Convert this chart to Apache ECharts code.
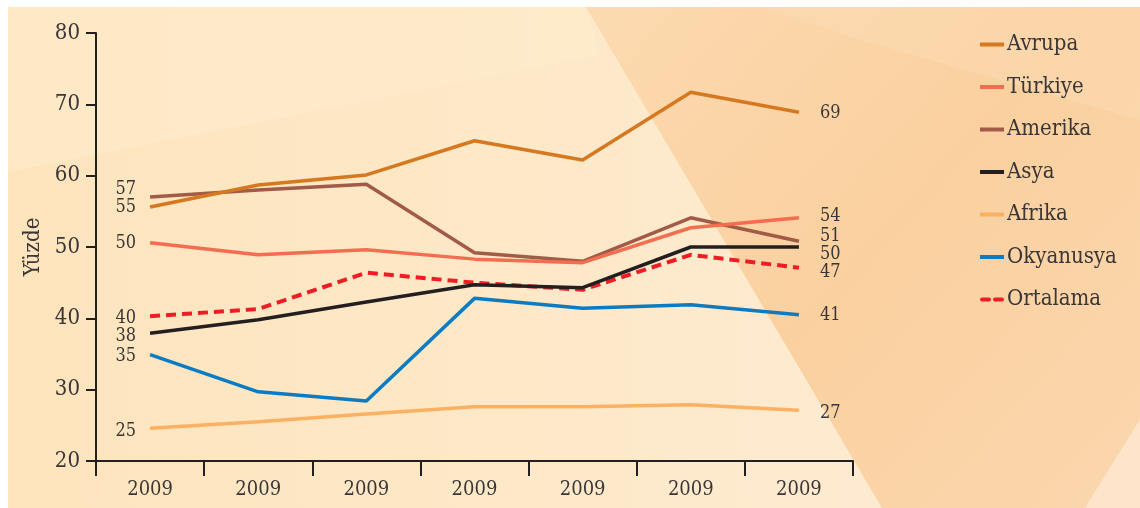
<!DOCTYPE html>
<html>
<head>
<meta charset="utf-8">
<script src="https://cdn.jsdelivr.net/npm/echarts@6/dist/echarts.min.js"></script>
<style>
html,body{margin:0;padding:0;background:#ffffff;}
#chart{width:1140px;height:508px;}
</style>
</head>
<body>
<div id="chart"></div>
<script>
// ---- data ----
const categories = ['2009', '2009', '2009', '2009', '2009', '2009', '2009'];
const seriesNames = ['Avrupa', 'Türkiye', 'Amerika', 'Asya', 'Afrika', 'Okyanusya', 'Ortalama'];
const avrupa    = [55.6, 58.7, 60.1, 64.9, 62.2, 71.7, 68.9];
const turkiye   = [50.6, 48.9, 49.6, 48.3, 47.8, 52.7, 54.1];
const amerika   = [57.0, 58.0, 58.8, 49.2, 48.0, 54.1, 50.8];
const asya      = [37.9, 39.8, 42.3, 44.7, 44.3, 50.0, 50.0];
const afrika    = [24.6, 25.5, 26.6, 27.6, 27.6, 27.9, 27.1];
const okyanusya = [34.9, 29.7, 28.4, 42.8, 41.4, 41.9, 40.5];
const ortalama  = [40.3, 41.3, 46.4, 45.0, 44.0, 48.9, 47.1];
const startLabels = ['55', '50', '57', '38', '25', '35', '40'];
const endLabels   = ['69', '54', '51', '50', '27', '41', '47'];
const yTicks = [20, 30, 40, 50, 60, 70, 80];
const yTitle = 'Yüzde';

// ---- style ----
const values = [avrupa, turkiye, amerika, asya, afrika, okyanusya, ortalama];
const colors = ['#d5781f', '#f36d50', '#a15b46', '#231f20', '#fbb062', '#0b7bc3', '#ee1c25'];
const startNudge = [0, 1, -8, 3, 3, 2, 2];
const endNudge = [1, -1, -5, 7, 3, 1, 5];
const FONT = "'DejaVu Serif Condensed', 'DejaVu Serif', serif";
const TXT = '#3b3636';
const SOLID_ICON = 'path://M0,0H24V4H0Z';
const DASH_ICON = 'path://M2,0H9A2,2 0 0 1 9,4H2A2,2 0 0 1 2,0Z M15,0H22A2,2 0 0 1 22,4H15A2,2 0 0 1 15,0Z';

const labelBase = { show: true, fontFamily: FONT, fontSize: 18, color: TXT };

const series = values.map((vals, si) => ({
  name: seriesNames[si],
  type: 'line',
  symbol: 'circle',
  symbolSize: 0.01,
  showSymbol: true,
  z: 10 - si,
  lineStyle: {
    color: colors[si],
    width: si === 6 ? 4 : 3.5,
    type: si === 6 ? [10, 6] : 'solid'
  },
  itemStyle: { color: colors[si] },
  label: { show: false },
  data: vals.map((v, i) => {
    const item = { value: v };
    if (i === 0) {
      item.label = Object.assign({}, labelBase, { position: 'left', distance: 14,
        offset: [0, startNudge[si]], formatter: () => startLabels[si] });
    } else if (i === vals.length - 1) {
      item.label = Object.assign({}, labelBase, { position: 'right', distance: 21,
        offset: [0, endNudge[si]], formatter: () => endLabels[si] });
    }
    return item;
  })
}));

const chart = echarts.init(document.getElementById('chart'), null, { renderer: 'canvas' });
chart.setOption({
  animation: false,
  backgroundColor: '#ffffff',
  graphic: [
    { type: 'rect', z: -100, silent: true, shape: { x: 8, y: 7, width: 1132, height: 501 },
      style: { fill: { type: 'linear', x: 0, y: 0, x2: 1, y2: 0, colorStops: [
        { offset: 0, color: '#fde4bd' }, { offset: 0.5, color: '#fde9c9' }, { offset: 0.75, color: '#feead0' }, { offset: 1, color: '#feead0' }] } } },
    { type: 'polygon', z: -99, silent: true, shape: { points: [[8, 7], [586, 7], [600, 55], [8, 172]] },
      style: { fill: '#fdebcb', opacity: 0.7 } },
    { type: 'polygon', z: -97, silent: true, shape: { points: [[586, 7], [1140, 7], [1140, 420], [1085, 508], [882, 508]] },
      style: { fill: { type: 'linear', x: 0, y: 0, x2: 1, y2: 1, colorStops: [
        { offset: 0, color: '#fcdab0' }, { offset: 0.5, color: '#fad09f' }, { offset: 1, color: '#fbd7ae' }] } } },
    { type: 'polygon', z: -96, silent: true, shape: { points: [[760, 7], [1140, 7], [1140, 120], [860, 40]] },
      style: { fill: '#fcdbb4', opacity: 0.5 } },
    { type: 'polygon', z: -96, silent: true, shape: { points: [[1140, 420], [1140, 508], [1085, 508]] },
      style: { fill: '#fde4ca' } }
  ],
  grid: { left: 96, right: 287, top: 33, bottom: 47, containLabel: false },
  legend: {
    orient: 'vertical',
    left: 975,
    top: 27,
    itemWidth: 24,
    itemHeight: 4,
    itemGap: 17.5,
    data: seriesNames.map((n, i) => ({ name: n, icon: i === 6 ? DASH_ICON : SOLID_ICON })),
    textStyle: { fontFamily: FONT, fontSize: 22, color: TXT, lineHeight: 25, padding: [0, 0, 0, -2] }
  },
  xAxis: {
    type: 'category',
    data: categories,
    boundaryGap: true,
    axisLine: { lineStyle: { color: '#231f20', width: 2 } },
    axisTick: { show: true, length: 15, alignWithLabel: false, lineStyle: { color: '#231f20', width: 2 } },
    axisLabel: { margin: 19, fontFamily: FONT, fontSize: 20, color: TXT, interval: 0 },
    splitLine: { show: false }
  },
  yAxis: {
    type: 'value',
    min: yTicks[0],
    max: yTicks[yTicks.length - 1],
    interval: yTicks[1] - yTicks[0],
    name: yTitle,
    nameLocation: 'middle',
    nameRotate: 90,
    nameGap: 42,
    nameTextStyle: { fontFamily: FONT, fontSize: 22, color: TXT },
    axisLine: { show: true, lineStyle: { color: '#231f20', width: 2 } },
    axisTick: { show: true, length: 10, lineStyle: { color: '#231f20', width: 2 } },
    axisLabel: { margin: 16, fontFamily: FONT, fontSize: 22, color: TXT },
    splitLine: { show: false }
  },
  series: series
});
</script>
</body>
</html>
